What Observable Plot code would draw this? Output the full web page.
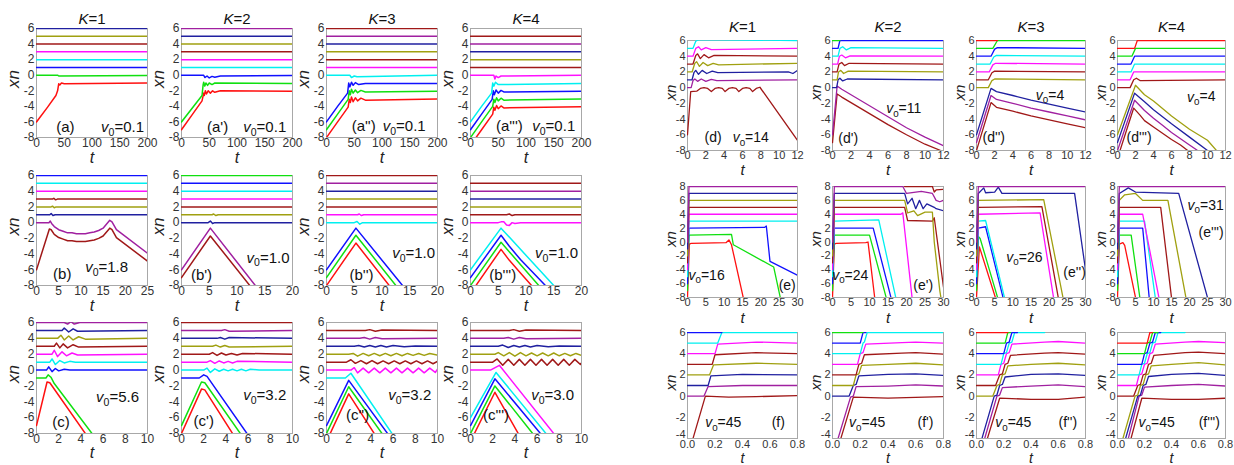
<!DOCTYPE html>
<html><head><meta charset="utf-8">
<script src="https://cdn.jsdelivr.net/npm/d3@7"></script>
<script src="https://cdn.jsdelivr.net/npm/@observablehq/plot@0.6"></script>
<style>
body{margin:0;background:#fff;}
#chart{position:relative;width:1234px;height:465px;overflow:hidden;background:#fff;}
#chart svg{position:absolute;}
</style></head><body><div id="chart"></div>
<script>
// ---------- tick labels ----------
const ticksYLeft = [-8,-6,-4,-2,0,2,4,6];
const ticksTa = [0,50,100,150,200];
const ticksTb1 = [0,5,10,15,20,25];
const ticksTb = [0,5,10,15,20];
const ticksTc = [0,2,4,6,8,10];
const ticksTd = [0,2,4,6,8,10,12];
const ticksTe = [0,5,10,15,20,25,30];
const ticksYe = [-8,-6,-4,-2,0,2,4,6,8];
const ticksTf = [0,0.2,0.4,0.6,0.8];
const ticksYf = [-4,-2,0,2,4,6];
const titlesK = ["K=1","K=2","K=3","K=4"];

// ---------- series: [colour key, [t0,x0, t1,x1, ...]] ----------
const dataA0 = [
 ["r",[0,-6, 20,-4.1, 35,-2.6, 38,-2, 40,-1.1, 42,-1.25, 45,-1, 50,-1.1, 200,-1]],
 ["g",[0,0, 38,0, 40,-0.1, 200,-0.05]],
 ["b",[0,1, 200,1]], ["c",[0,2, 200,2]], ["m",[0,3, 200,3]],
 ["w",[0,4, 200,4]], ["o",[0,5, 200,5]], ["n",[0,6, 200,6]]];
const dataA1 = [
 ["r",[0,-7, 20,-5, 37,-3.3, 40,-2.3, 41,-2.6, 43,-2, 45,-2.4, 48,-2, 52,-2.3, 56,-2, 60,-2.2, 70,-2, 200,-2.05]],
 ["g",[0,-6, 37,-2.6, 39,-1.2, 40,-0.9, 42,-1.4, 44,-1, 47,-1.3, 50,-1, 55,-1.2, 60,-1, 200,-1.05]],
 ["b",[0,0, 40,0, 42,-0.3, 46,-0.1, 50,-0.35, 55,-0.15, 60,-0.25, 70,-0.1, 200,-0.05]],
 ["c",[0,1, 200,1]], ["m",[0,2, 200,2]], ["w",[0,3, 200,3]],
 ["o",[0,4, 200,4]], ["n",[0,5, 200,5]], ["p",[0,6, 200,6]]];
const dataA2 = [
 ["r",[0,-8, 20,-6, 39,-4.1, 41,-3.1, 43,-3.5, 45,-2.8, 48,-3.4, 52,-2.9, 56,-3.3, 62,-2.95, 70,-3.2, 200,-3.05]],
 ["g",[0,-7, 20,-5, 39,-3.1, 41,-2.0, 43,-2.5, 45,-1.8, 48,-2.3, 52,-1.9, 56,-2.25, 62,-1.95, 70,-2.15, 200,-2.05]],
 ["b",[0,-6, 20,-4, 38,-2.3, 40,-1, 42,-1.5, 45,-0.9, 48,-1.3, 52,-0.95, 58,-1.2, 70,-1.05, 200,-1.05]],
 ["c",[0,0, 42,0, 45,-0.3, 50,-0.1, 55,-0.2, 200,0]],
 ["m",[0,1, 200,1]], ["w",[0,2, 200,2]], ["o",[0,3, 200,3]],
 ["n",[0,4, 200,4]], ["p",[0,5, 200,5]], ["w",[0,6, 200,6]]];
const dataA3 = [
 ["r",[0,-9, 20,-7, 40,-5, 42,-4.1, 44,-4.5, 47,-3.9, 50,-4.3, 55,-3.95, 60,-4.2, 200,-4.05]],
 ["g",[0,-8, 20,-6, 40,-4, 42,-3.1, 44,-3.5, 47,-2.9, 50,-3.3, 55,-2.95, 60,-3.2, 200,-3.05]],
 ["b",[0,-7, 20,-5, 39,-3.1, 41,-2.0, 43,-2.5, 46,-1.9, 50,-2.3, 55,-1.95, 60,-2.15, 200,-2.05]],
 ["c",[0,-6, 20,-4, 38,-2.3, 40,-1.0, 42,-1.4, 45,-0.9, 50,-1.2, 200,-1.05]],
 ["m",[0,0, 42,0, 44,-0.5, 46,-0.1, 50,-0.3, 55,-0.1, 200,0]],
 ["w",[0,1, 200,1]], ["o",[0,2, 200,2]], ["n",[0,3, 200,3]],
 ["p",[0,4, 200,4]], ["w",[0,5, 200,5]]];

const dataB0 = [
 ["w",[0,-6, 2.9,-0.8, 3.3,-0.9, 4,-1.5, 5,-1.9, 6,-2.1, 7,-2.3, 8,-2.3, 9,-2.4, 10,-2.4, 11,-2.4, 12,-2.3, 13,-2.2, 14,-2.0, 15,-1.7, 16.5,-0.7, 17,-0.9, 18,-1.9, 25,-4.9]],
 ["p",[0,0, 2.8,0, 3.1,0.2, 3.4,-0.1, 4,-0.5, 5,-0.9, 6,-1.1, 7,-1.3, 8,-1.3, 9,-1.4, 10,-1.4, 11,-1.4, 12,-1.3, 13,-1.2, 14,-1.0, 15,-0.7, 16.5,0.3, 17,0.1, 18,-0.9, 25,-3.9]],
 ["n",[0,1, 3,1, 3.3,1.15, 3.7,0.9, 4.2,1, 25,1]],
 ["o",[0,2, 3.3,2, 3.6,2.1, 4,1.9, 4.4,2, 25,2]],
 ["w",[0,3, 3.6,3, 3.9,3.1, 4.3,2.9, 4.7,3, 25,3]],
 ["m",[0,4, 25,4]], ["c",[0,5, 25,5]], ["b",[0,6, 25,6]]];
const dataB1 = [
 ["w",[0,-7, 5.2,-1.7, 12.3,-8]],
 ["p",[0,-6, 5.2,-0.7, 13.3,-8]],
 ["n",[0,0, 4.8,0, 5.2,0.2, 5.6,-0.1, 6,0, 20,0]],
 ["o",[0,1, 5.5,1, 5.8,1.1, 6.2,0.9, 6.6,1, 20,1]],
 ["w",[0,2, 20,2]], ["m",[0,3, 20,3]], ["c",[0,4, 20,4]],
 ["b",[0,5, 20,5]], ["g",[0,6, 20,6]]];
const dataB2 = [
 ["r",[0,-8, 5.3,-2.6, 11.3,-8]],
 ["g",[0,-7, 5.3,-1.6, 12.5,-8]],
 ["b",[0,-6, 5.3,-0.7, 13.7,-8]],
 ["c",[0,0, 5,0, 5.5,0.15, 6,-0.2, 6.5,0, 20,0]],
 ["m",[0,1, 5.6,1, 5.9,1.1, 6.3,0.9, 6.7,1, 20,1]],
 ["w",[0,2, 20,2]], ["o",[0,3, 20,3]], ["n",[0,4, 20,4]],
 ["p",[0,5, 20,5]], ["w",[0,6, 20,6]]];
const dataB3 = [
 ["r",[0,-9, 5.5,-3.4, 7,-4.8, 9,-6.4, 11,-8]],
 ["g",[0,-8, 5.5,-2.5, 12.3,-8]],
 ["b",[0,-7, 5.5,-1.6, 7,-3, 9,-4.7, 13.5,-8]],
 ["c",[0,-6, 5.5,-0.7, 15,-8]],
 ["m",[0,0, 5,0, 5.5,0.1, 6,0.1, 6.5,-0.3, 7,-0.35, 7.5,0, 8,-0.1, 9,0, 20,0]],
 ["w",[0,1, 6.5,1, 7,1.1, 7.5,0.9, 8,1, 20,1]],
 ["o",[0,2, 20,2]], ["n",[0,3, 20,3]], ["p",[0,4, 20,4]], ["w",[0,5, 20,5]]];

const dataC0 = [
 ["r",[0,-7, 0.95,-1.5, 1.2,-1.6, 4.4,-8]],
 ["g",[0,-1, 0.85,-1, 1.05,-0.6, 1.3,-0.9, 1.6,-1.7, 5,-8]],
 ["b",[0,0, 0.9,0, 1.1,0.4, 1.4,-0.2, 1.7,0.2, 2,-0.1, 2.5,0.1, 3,0, 10,0]],
 ["c",[0,1, 1.2,1, 1.4,1.4, 1.7,0.7, 2.1,1.2, 2.5,0.9, 3,1.1, 3.5,1, 10,1]],
 ["m",[0,2, 1.4,2, 1.6,2.5, 1.9,1.7, 2.3,2.3, 2.7,1.8, 3.2,2.15, 3.7,1.9, 10,2]],
 ["w",[0,3, 1.6,3, 1.8,3.4, 2.1,2.8, 2.4,3.3, 2.8,2.8, 3.3,3.2, 3.8,2.9, 10,3]],
 ["o",[0,4, 1.9,4, 2.2,4.4, 2.5,3.8, 2.9,4.3, 3.3,3.8, 3.8,4.2, 4.4,3.9, 10,4]],
 ["n",[0,5, 2.3,5, 2.5,5.3, 2.9,4.8, 3.3,5.2, 3.7,4.9, 10,5]],
 ["p",[0,6, 2.5,6, 2.8,5.8, 3.1,6.1, 3.4,5.8, 3.9,6, 10,6]]];
const dataC1 = [
 ["r",[0,-8, 1.8,-2.4, 2.1,-2.5, 4.6,-8]],
 ["g",[0,-7, 1.8,-1.5, 2.1,-1.6, 5.3,-8]],
 ["b",[0,-1, 1.6,-1, 2,-0.6, 2.3,-0.8, 5.9,-8]],
 ["c",[0,0, 2,0, 2.3,0.25, 2.6,-0.3, 3,0.15, 3.4,-0.15, 3.8,0.1, 4.2,-0.1, 4.6,0.1, 5,-0.1, 5.4,0.1, 5.8,-0.1, 6.2,0.1, 7,0, 10,0]],
 ["m",[0,1, 2.3,1, 2.6,1.2, 3,0.85, 3.4,1.15, 3.8,0.9, 4.2,1.1, 4.6,0.9, 5,1.1, 10,1]],
 ["w",[0,2, 2.5,2, 2.8,2.2, 3.2,1.85, 3.6,2.15, 4,1.9, 4.5,2.1, 5,1.9, 5.5,2.1, 10,2]],
 ["o",[0,3, 2.8,3, 3.1,3.15, 3.5,2.9, 3.9,3.1, 4.3,2.9, 10,3]],
 ["n",[0,4, 3.2,4, 3.5,4.1, 3.9,3.9, 4.3,4.1, 10,4]],
 ["p",[0,5, 3.6,5, 3.9,5.1, 4.3,4.9, 10,5]],
 ["w",[0,6, 10,6]]];
const dataC2 = [
 ["r",[0,-9, 2,-3, 4.3,-8]],
 ["g",[0,-8, 2,-2.1, 5,-8]],
 ["b",[0,-7, 2,-1.3, 5.5,-8]],
 ["c",[0,-1, 1.7,-1, 2.2,-0.4, 5.9,-8]],
 ["m",[0,0, 2.2,0, 2.5,0.3, 2.8,-0.35, 3.3,0.25, 3.8,-0.35, 4.3,0.25, 4.8,-0.35, 5.3,0.25, 5.8,-0.35, 6.3,0.25, 6.8,-0.35, 7.3,0.25, 7.8,-0.35, 8.3,0.25, 8.8,-0.35, 9.3,0.25, 9.8,-0.3, 10,0.1]],
 ["w",[0,1, 1.8,1, 2.2,1.3, 2.6,0.85, 3.1,1.2, 3.6,0.8, 4.1,1.2, 4.6,0.8, 5.1,1.15, 5.6,0.8, 6.1,1.15, 6.6,0.8, 7.1,1.15, 7.6,0.8, 8.1,1.15, 8.6,0.8, 9.1,1.15, 9.6,0.8, 10,1.1]],
 ["o",[0,2, 2,2, 2.4,2.1, 2.8,1.75, 3.3,2.1, 3.8,1.8, 4.3,2.1, 4.8,1.8, 5.3,2.1, 5.8,1.8, 6.3,2.1, 6.8,1.8, 7.3,2.1, 7.8,1.85, 8.3,2.1, 8.8,1.85, 9.3,2.1, 10,1.9]],
 ["n",[0,3, 2.5,3, 2.9,3.1, 3.4,2.9, 3.9,3.1, 4.4,2.9, 4.9,3.1, 5.4,2.9, 6,3.1, 7,2.95, 8,3.05, 10,3]],
 ["p",[0,4, 3,4, 3.4,4.1, 3.9,3.9, 4.4,4.1, 5,3.95, 10,4]],
 ["w",[0,5, 3.5,5, 3.9,5.1, 4.4,4.9, 5,5.05, 10,5]]];
const dataC3 = [
 ["r",[0,-9, 2.2,-2.8, 4.3,-8]],
 ["g",[0,-8, 2.2,-2, 5.6,-8]],
 ["b",[0,-7, 2.2,-1.1, 6.3,-8]],
 ["c",[0,-6, 2.3,-0.3, 6.8,-8]],
 ["m",[0,0, 1.8,0, 2.6,0.6, 7.5,-8]],
 ["w",[0,1, 2,1, 2.4,1.4, 2.9,0.6, 3.4,1.35, 3.9,0.6, 4.4,1.35, 4.9,0.6, 5.4,1.35, 5.9,0.6, 6.4,1.35, 6.9,0.6, 7.4,1.35, 7.9,0.6, 8.4,1.35, 8.9,0.6, 9.4,1.35, 9.9,0.7, 10,0.9]],
 ["o",[0,2, 2.2,2, 2.5,2.2, 3,1.8, 3.5,2.2, 4,1.75, 4.5,2.2, 5,1.8, 5.5,2.15, 6,1.8, 6.5,2.15, 7,1.8, 7.5,2.15, 8,1.8, 8.5,2.1, 9,1.8, 9.5,2.1, 10,1.85]],
 ["n",[0,3, 2.5,3, 2.9,3.15, 3.4,2.85, 3.9,3.1, 4.4,2.9, 4.9,3.1, 5.4,2.9, 6,3.1, 7,2.95, 8,3.05, 10,3]],
 ["p",[0,4, 3,4, 3.4,4.1, 3.9,3.9, 4.4,4.1, 5,3.95, 10,4]],
 ["w",[0,5, 3.5,5, 3.9,5.1, 4.4,4.9, 5,5.05, 10,5]]];

const dataD0 = [
 ["w",[0,-6, 0.35,-0.5, 1,-0.45, 1.4,-0.1, 1.8,0, 2.2,-0.1, 2.6,-0.5, 3,-0.1, 3.4,0, 3.8,-0.1, 4.1,-0.5, 4.5,-0.1, 4.9,0, 5.3,-0.1, 5.6,-0.5, 6,-0.1, 6.4,0, 6.8,-0.1, 7.1,-0.5, 7.5,-0.1, 7.9,0.05, 12,-6.7]],
 ["p",[0,0, 0.4,0, 0.6,0.9, 0.8,1.1, 1.1,0.8, 1.5,1.1, 2,0.8, 2.6,1.05, 3.2,0.9, 12,1]],
 ["n",[0,1, 0.5,1, 0.7,1.9, 0.9,2.2, 1.2,1.7, 1.6,2.2, 2.1,1.8, 2.7,2.1, 3.3,1.9, 11,2, 11.5,1.8, 12,2.2]],
 ["o",[0,2, 0.5,2, 0.8,3.1, 1,3.3, 1.3,2.7, 1.7,3.2, 2.2,2.8, 2.8,3.1, 3.4,2.9, 12,3.1]],
 ["w",[0,3, 0.6,3, 0.9,4.1, 1.1,4.3, 1.4,3.7, 1.8,4.2, 2.3,3.8, 2.9,4.1, 12,4]],
 ["m",[0,4, 0.6,4, 0.9,5, 1.2,5.2, 1.5,4.8, 2,5.1, 2.6,4.85, 12,5]],
 ["c",[0,5, 0.6,5, 0.9,5.9, 1.2,6.1, 12,6]]];
const dataD1 = [
 ["w",[0,-7, 0.5,-0.8, 1,-1.2, 2,-1.9, 4,-3.3, 6,-4.7, 8,-6.0, 10,-7.2, 11.7,-8]],
 ["p",[0,-6, 0.5,0.2, 1,-0.2, 2,-0.9, 4,-2.3, 6,-3.7, 8,-5.1, 10,-6.3, 12,-7.4]],
 ["n",[0,0, 0.45,0, 0.6,1, 0.8,1.2, 1.1,0.85, 1.6,1.1, 12,1]],
 ["o",[0,1, 0.5,1, 0.65,2, 0.9,2.2, 1.2,1.8, 1.7,2.1, 12,2]],
 ["w",[0,2, 0.5,2, 0.7,3, 1,3.2, 1.3,2.8, 1.8,3.1, 12,3]],
 ["m",[0,3, 0.55,3, 0.75,4, 1,4.15, 1.4,3.8, 1.9,4.05, 12,4]],
 ["c",[0,4, 0.6,4, 0.8,5, 1.1,5.2, 1.5,4.8, 2,5.1, 12,5]],
 ["b",[0,5, 0.6,5, 0.8,6, 12,6]],
 ["g",[0,6, 0.8,6]]];
const dataD2 = [
 ["w",[0,-8, 1.6,-1.9, 2.2,-2.5, 4,-3, 6,-3.6, 8,-4.1, 10,-4.6, 12,-5.1]],
 ["p",[0,-7, 1.6,-1, 2.2,-1.5, 4,-2, 6,-2.6, 8,-3.1, 10,-3.6, 12,-4.1]],
 ["n",[0,-6, 1.6,-0.1, 2.2,-0.5, 4,-1, 6,-1.6, 8,-2.1, 10,-2.6, 12,-3.1]],
 ["o",[0,0, 1.3,0, 1.7,0.9, 2,1.1, 12,1]],
 ["w",[0,1, 1.3,1, 1.7,1.9, 2,2.1, 12,2]],
 ["m",[0,2, 1.4,2, 1.8,2.9, 2.1,3.1, 12,3]],
 ["c",[0,3, 1.5,3, 1.9,3.9, 2.2,4.1, 12,4]],
 ["b",[0,4, 1.6,4, 2,4.9, 2.3,5.1, 12,5]],
 ["g",[0,5, 1.8,5, 2.3,6, 12,6]],
 ["r",[0,6, 2.3,6]]];
const dataD3 = [
 ["w",[0,-9, 1.8,-2.6, 2.5,-3.5, 3,-4.2, 4,-5, 5,-5.8, 6,-6.6, 7,-7.3, 7.8,-8]],
 ["p",[0,-8, 1.9,-1.6, 3,-2.9, 4,-3.9, 5,-4.8, 6,-5.7, 7,-6.5, 8,-7.3, 8.9,-8]],
 ["n",[0,-7, 1.9,-0.7, 3,-1.8, 4,-2.8, 6,-4.6, 8,-6.3, 10,-8]],
 ["o",[0,-6, 2,0.3, 3,-0.9, 4,-1.7, 6,-3.6, 8,-5.3, 10,-6.7, 11,-8]],
 ["w",[0,0, 1.4,0, 1.8,1, 2.1,1.2, 2.5,0.9, 12,1]],
 ["m",[0,1, 1.4,1, 1.8,2, 12,2]],
 ["c",[0,2, 1.5,2, 1.9,3, 12,3]],
 ["b",[0,3, 1.5,3, 1.9,4, 12,4]],
 ["g",[0,4, 1.6,4, 2,5, 12,5]],
 ["r",[0,5, 1.9,5, 2.2,6, 12,6]]];

const dataE0 = [
 ["r",[0,-8, 0.5,-0.3, 1,-0.2, 10.5,-0.1, 11.3,0.3, 12,-0.4, 15.2,-8]],
 ["g",[0,-7, 0.4,1, 12,1.1, 12.5,-0.4, 23.5,-3.6, 25.3,-8]],
 ["b",[0,-6, 0.4,2, 21,2.1, 21.5,2.3, 22.5,-2.8, 30,-4.8]],
 ["c",[0,-5, 0.4,3, 30,3]], ["m",[0,-4, 0.4,4, 30,4]],
 ["w",[0,-3, 0.4,5, 30,5]], ["o",[0,-2, 0.4,6, 30,6]],
 ["n",[0,-1, 0.4,7, 30,7]], ["p",[0,0, 0.4,8, 30,8]]];
const dataE1 = [
 ["r",[0,-8, 0.5,-0.3, 1,-0.2, 9,-0.1, 9.6,0, 11.4,-8]],
 ["g",[0,-7, 0.5,1, 10,1, 14.5,-8]],
 ["b",[0,-6, 0.5,2, 11,2, 15.8,-8]],
 ["c",[0,-5, 0.5,3, 12.5,3.2, 17.1,-8]],
 ["m",[0,-4, 0.5,4, 18.5,4, 19,4.2, 21.5,-8]],
 ["w",[0,-3, 0.5,5, 19.5,5, 20.3,3.1, 27,3, 27.5,3.5, 30,-6.5]],
 ["o",[0,-2, 0.5,6, 19.5,6, 20.3,4.2, 22,4.5, 23,3.8, 25,4.3, 27,4.3, 27.5,0, 29,-7, 29.3,-8]],
 ["n",[0,-1, 0.5,7, 19.5,7, 20.3,5.5, 21.5,6.3, 22.5,4.8, 23.5,6, 24.5,4.8, 25.5,5.5, 27.5,5, 28,4.8, 30,4.5]],
 ["p",[0,0, 0.5,8, 19,8, 20,7, 24,7.3, 27,7, 28,6, 29,5.8, 30,6]],
 ["w",[19.5,8, 27,8, 27.5,7.2, 28,7.5, 30,7.6]]];
const dataE2 = [
 ["r",[0,-8, 0.8,-0.7, 5.2,-8]],
 ["g",[0,-7, 0.5,0.8, 1,0.5, 5.8,-8]],
 ["b",[0,-6, 0.5,2, 2.5,2.2, 7.3,-8]],
 ["c",[0,-5, 0.5,3, 2.5,3.1, 7.7,-8]],
 ["m",[0,-4, 0.5,4, 17.5,4.2, 21.2,-8]],
 ["w",[0,-3, 0.5,5, 18,5.1, 22.5,-8]],
 ["o",[0,-2, 0.5,6, 18.5,6.1, 23.8,-8]],
 ["n",[0,-1, 0.5,7, 2,7.8, 2.5,7.1, 5,7.2, 6,7.9, 7,7, 27,7, 30,-4]],
 ["p",[0,0, 0.5,8, 30,8]]];
const dataE3 = [
 ["r",[0,-8, 0.5,-0.3, 1.5,-0.1, 2,-0.5, 5,-8]],
 ["g",[0,-7, 0.5,1, 3.8,1, 6.2,-8]],
 ["b",[0,-6, 0.5,2, 7,2, 8.8,-8]],
 ["c",[0,-5, 0.5,3, 7.5,3, 10.5,-8]],
 ["m",[0,-4, 0.5,4, 7,4, 11.5,-8]],
 ["w",[0,-3, 0.5,5, 12,5, 15,-8]],
 ["o",[0,-2, 0.5,6, 2,6.8, 5,7, 7,6, 14,6, 19,-8]],
 ["n",[0,-1, 0.5,7, 3,7.8, 5,7.2, 17,7, 25,-8]],
 ["p",[0,0, 0.5,8, 30,8]]];

const dataF0 = [
 ["w",[0.04,-4, 0.13,0, 0.3,-0.1, 0.5,-0.05, 0.8,0.05]],
 ["p",[0,0, 0.12,0, 0.15,0.9, 0.4,1, 0.8,1]],
 ["n",[0,1, 0.15,1, 0.17,1.9, 0.4,2.05, 0.8,2]],
 ["o",[0,2, 0.16,2, 0.19,2.95, 0.5,3.1, 0.8,3]],
 ["w",[0,3, 0.18,3, 0.2,3.9, 0.5,4.1, 0.8,4]],
 ["m",[0,4, 0.2,4, 0.22,4.9, 0.5,5.1, 0.8,5]],
 ["c",[0,5, 0.22,5, 0.25,6, 0.8,6]],
 ["b",[0,6, 0.25,6]]];
const dataF1 = [
 ["w",[0.06,-4, 0.15,-0.1, 0.4,-0.2, 0.8,-0.05]],
 ["p",[0.04,-4, 0.13,-0.1, 0.15,0, 0.17,0.9, 0.4,0.95, 0.6,1.05, 0.8,0.95]],
 ["n",[0,0, 0.12,0, 0.15,1, 0.17,1.1, 0.19,1.9, 0.4,2.05, 0.6,2.1, 0.8,1.95]],
 ["o",[0,1, 0.15,1, 0.17,2, 0.19,2.1, 0.21,2.9, 0.4,3.0, 0.6,3.1, 0.8,2.95]],
 ["w",[0,2, 0.17,2, 0.19,3, 0.21,3.1, 0.23,3.9, 0.5,4.05, 0.6,4.1, 0.8,3.95]],
 ["m",[0,3, 0.18,3, 0.2,4, 0.22,4.1, 0.24,4.9, 0.5,5.05, 0.6,5.1, 0.8,5]],
 ["c",[0,4, 0.2,4, 0.22,5, 0.23,5.1, 0.25,6, 0.8,6]],
 ["b",[0,5, 0.2,5, 0.22,6, 0.24,6]],
 ["g",[0,6, 0.22,6]]];
const dataF2 = [
 ["w",[0.08,-4, 0.17,-0.2, 0.4,-0.3, 0.6,-0.3, 0.8,-0.1]],
 ["p",[0.06,-4, 0.15,0, 0.17,0.1, 0.19,0.8, 0.4,0.95, 0.6,1.05, 0.8,0.9]],
 ["n",[0.04,-4, 0.13,0, 0.15,0.1, 0.17,1, 0.19,1.1, 0.21,1.8, 0.4,2.05, 0.6,2.1, 0.8,1.95]],
 ["o",[0,0, 0.12,0, 0.15,1, 0.17,1.1, 0.19,2, 0.21,2.1, 0.23,2.85, 0.4,3.0, 0.6,3.1, 0.8,2.95]],
 ["w",[0,1, 0.14,1, 0.17,2, 0.19,2.1, 0.21,3, 0.23,3.1, 0.25,3.85, 0.5,4.05, 0.6,4.1, 0.8,3.95]],
 ["m",[0,2, 0.16,2, 0.18,3, 0.2,3.1, 0.22,4, 0.24,4.1, 0.26,4.9, 0.5,5.1, 0.6,5.15, 0.8,5]],
 ["c",[0,3, 0.18,3, 0.2,4, 0.22,4.1, 0.24,5, 0.26,5.1, 0.28,6, 0.5,6]],
 ["b",[0,4, 0.2,4, 0.22,5, 0.24,5.1, 0.26,6, 0.3,6]],
 ["g",[0,5, 0.21,5, 0.23,6, 0.25,6]],
 ["r",[0,6, 0.23,6]]];
const dataF3 = [
 ["w",[0.1,-4, 0.18,-0.2, 0.4,-0.3, 0.6,-0.3, 0.8,-0.2]],
 ["p",[0.08,-4, 0.16,0, 0.18,0.1, 0.2,0.85, 0.4,1.0, 0.6,1.1, 0.8,0.95]],
 ["n",[0.06,-4, 0.15,0, 0.17,0.1, 0.19,1, 0.21,1.1, 0.23,1.85, 0.4,2.05, 0.6,2.15, 0.8,1.95]],
 ["o",[0.04,-4, 0.13,0, 0.15,0.1, 0.17,1, 0.19,1.1, 0.21,2, 0.23,2.1, 0.25,2.85, 0.4,3.0, 0.6,3.15, 0.8,2.95]],
 ["w",[0,0, 0.12,0, 0.15,1, 0.17,1.1, 0.19,2, 0.21,2.1, 0.23,3, 0.25,3.1, 0.27,3.85, 0.5,4.1, 0.6,4.15, 0.8,4]],
 ["m",[0,1, 0.14,1, 0.16,2, 0.18,2.1, 0.2,3, 0.22,3.1, 0.24,4, 0.26,4.1, 0.28,4.9, 0.5,5.1, 0.6,5.15, 0.8,5.05]],
 ["c",[0,2, 0.16,2, 0.18,3, 0.2,3.1, 0.22,4, 0.24,4.1, 0.26,5, 0.28,5.1, 0.3,6, 0.5,6]],
 ["b",[0,3, 0.18,3, 0.2,4, 0.22,4.1, 0.24,5, 0.26,5.1, 0.28,6, 0.32,6]],
 ["g",[0,4, 0.2,4, 0.22,5, 0.24,5.1, 0.26,6, 0.3,6]],
 ["r",[0,5, 0.22,5, 0.24,6, 0.26,6]]];

// ---------- styling / layout ----------
const pal = {r:"#ff1010", g:"#10e010", b:"#1010ff", c:"#00f0f0", m:"#ff10ff", w:"#a01818", o:"#a0a010", n:"#2020a0", p:"#a020a0"};
const ML = 40, MR = 12, MT = 30, MB = 34;
const leftX = [36,181,326,470], leftY = [28,175,322];
const rightX = [687,832,976,1117], rightY = [40,186,332];
const rightW = [110,111,109,108];

const panels = [
 {d:dataA0, c:0, r:0, side:"L", xd:[0,200], xt:ticksTa, yd:[-8,6], yt:ticksYLeft, ann:[["(a)",52,-6.7],["v0=0.1",155,-6.7]]},
 {d:dataA1, c:1, r:0, side:"L", xd:[0,200], xt:ticksTa, yd:[-8,6], yt:ticksYLeft, ann:[["(a')",65,-6.7],["v0=0.1",150,-6.7]]},
 {d:dataA2, c:2, r:0, side:"L", xd:[0,200], xt:ticksTa, yd:[-8,6], yt:ticksYLeft, ann:[["(a'')",67,-6.6],["v0=0.1",140,-6.6]]},
 {d:dataA3, c:3, r:0, side:"L", xd:[0,200], xt:ticksTa, yd:[-8,6], yt:ticksYLeft, ann:[["(a''')",70,-6.6],["v0=0.1",150,-6.6]]},
 {d:dataB0, c:0, r:1, side:"L", xd:[0,25], xt:ticksTb1, yd:[-8,6], yt:ticksYLeft, ann:[["(b)",5.8,-6.6],["v0=1.8",15.8,-5.7]]},
 {d:dataB1, c:1, r:1, side:"L", xd:[0,20], xt:ticksTb, yd:[-8,6], yt:ticksYLeft, ann:[["(b')",3.6,-6.7],["v0=1.0",15.6,-4.5]]},
 {d:dataB2, c:2, r:1, side:"L", xd:[0,20], xt:ticksTb, yd:[-8,6], yt:ticksYLeft, ann:[["(b'')",6.3,-6.7],["v0=1.0",15.7,-3.9]]},
 {d:dataB3, c:3, r:1, side:"L", xd:[0,20], xt:ticksTb, yd:[-8,6], yt:ticksYLeft, ann:[["(b''')",5.8,-6.7],["v0=1.0",15.5,-3.9]]},
 {d:dataC0, c:0, r:2, side:"L", xd:[0,10], xt:ticksTc, yd:[-8,6], yt:ticksYLeft, ann:[["(c)",2.2,-6.6],["v0=5.6",7.3,-3.4]]},
 {d:dataC1, c:1, r:2, side:"L", xd:[0,10], xt:ticksTc, yd:[-8,6], yt:ticksYLeft, ann:[["(c')",2.0,-6.4],["v0=3.2",7.5,-3.2]]},
 {d:dataC2, c:2, r:2, side:"L", xd:[0,10], xt:ticksTc, yd:[-8,6], yt:ticksYLeft, ann:[["(c'')",2.8,-5.7],["v0=3.2",7.5,-3.2]]},
 {d:dataC3, c:3, r:2, side:"L", xd:[0,10], xt:ticksTc, yd:[-8,6], yt:ticksYLeft, ann:[["(c''')",2.3,-5.7],["v0=3.0",7.4,-3.2]]},
 {d:dataD0, c:0, r:0, side:"R", xd:[0,12], xt:ticksTd, yd:[-8,6], yt:ticksYLeft, ann:[["(d)",2.8,-6.4],["v0=14",6.9,-6.4]]},
 {d:dataD1, c:1, r:0, side:"R", xd:[0,12], xt:ticksTd, yd:[-8,6], yt:ticksYLeft, ann:[["(d')",1.7,-6.5],["v0=11",7.7,-2.7]]},
 {d:dataD2, c:2, r:0, side:"R", xd:[0,12], xt:ticksTd, yd:[-8,6], yt:ticksYLeft, ann:[["(d'')",1.9,-6.4],["v0=4",8.1,-1]]},
 {d:dataD3, c:3, r:0, side:"R", xd:[0,12], xt:ticksTd, yd:[-8,6], yt:ticksYLeft, ann:[["(d''')",2.4,-6.4],["v0=4",9.3,-1.2]]},
 {d:dataE0, c:0, r:1, side:"R", xd:[0,30], xt:ticksTe, yd:[-8,8], yt:ticksYe, ann:[["v0=16",5.2,-4.8],["(e)",27.2,-6.3]]},
 {d:dataE1, c:1, r:1, side:"R", xd:[0,30], xt:ticksTe, yd:[-8,8], yt:ticksYe, ann:[["v0=24",4.8,-4.8],["(e')",24.5,-6.3]]},
 {d:dataE2, c:2, r:1, side:"R", xd:[0,30], xt:ticksTe, yd:[-8,8], yt:ticksYe, ann:[["v0=26",13.2,-2.2],["(e'')",27,-4.4]]},
 {d:dataE3, c:3, r:1, side:"R", xd:[0,30], xt:ticksTe, yd:[-8,8], yt:ticksYe, ann:[["v0=31",24.5,5.3],["(e''')",26,1.4]]},
 {d:dataF0, c:0, r:2, side:"R", xd:[0,0.8], xt:ticksTf, yd:[-4,6], yt:ticksYf, f1:true, ann:[["v0=45",0.26,-2.5],["(f)",0.66,-2.5]]},
 {d:dataF1, c:1, r:2, side:"R", xd:[0,0.8], xt:ticksTf, yd:[-4,6], yt:ticksYf, f1:true, ann:[["v0=45",0.25,-2.5],["(f')",0.67,-2.5]]},
 {d:dataF2, c:2, r:2, side:"R", xd:[0,0.8], xt:ticksTf, yd:[-4,6], yt:ticksYf, f1:true, ann:[["v0=45",0.27,-2.5],["(f'')",0.67,-2.5]]},
 {d:dataF3, c:3, r:2, side:"R", xd:[0,0.8], xt:ticksTf, yd:[-4,6], yt:ticksYf, f1:true, ann:[["v0=45",0.29,-2.5],["(f''')",0.68,-2.5]]}
];

const chart = document.getElementById("chart");
const tDy = {L:[20,20,19], R:[20,21,20]};
const frameH = {L:[109,110,111], R:[110,111,106]};

for (const p of panels) {
  const L = p.side === "L";
  const fw = L ? 111 : rightW[p.c], fh = frameH[p.side][p.r];
  const x0 = L ? leftX[p.c] : rightX[p.c];
  const y0 = L ? leftY[p.r] : rightY[p.r];
  const rows = [];
  p.d.forEach(([k, pts], i) => {
    for (let j = 0; j < pts.length; j += 2) rows.push({s: i, k, t: pts[j], x: pts[j + 1]});
  });
  const fs = L ? 12 : 11;
  const yFmt = d => String(d);
  const marks = [
    Plot.frame({stroke: "#a8a8a8"}),
    Plot.axisX({ticks: p.xt, tickFormat: p.f1 ? d3.format(".1f") : (d => String(d)), tickSize: 0, tickPadding: p.f1 ? 2 : 1, label: null, fill: "#333"}),
    Plot.axisY({ticks: p.f1 ? p.yt.slice(1) : p.yt, tickFormat: yFmt, tickSize: 0, tickPadding: 2, label: null, fill: "#333"}),
    Plot.line(rows, {x: "t", y: "x", z: "s", stroke: d => pal[d.k], strokeWidth: L ? 1.5 : 1.3, clip: true}),
    Plot.text(["t"], {frameAnchor: "bottom", lineAnchor: "middle", text: d => d, dy: tDy[p.side][p.r], fontSize: p.f1 ? 14 : (L ? 16 : 15), fontStyle: "italic", fill: "#222"}),
    Plot.text(["xn"], {frameAnchor: "left", lineAnchor: "middle", text: d => d, rotate: -90, dx: L ? -23 : -16, dy: 5, fontSize: L ? 17 : 15, fontStyle: "italic", fill: "#222"}),
    Plot.text(p.ann, {x: d => d[1], y: d => d[2], text: d => d[0], fontSize: L ? 15 : 14, fill: "#111"})
  ];
  if (p.f1) marks.push(Plot.axisY({ticks: p.yt.slice(0, 1), tickFormat: yFmt, tickSize: 0, tickPadding: 2, label: null, fill: "#333", dy: -4}));
  if (p.r === 0) marks.push(Plot.text([titlesK[p.c]], {frameAnchor: "top", lineAnchor: "middle", text: d => d, dy: L ? -9 : -13, fontSize: 15, fill: "#111"}));
  const svg = Plot.plot({
    width: fw + ML + MR, height: fh + MT + MB,
    marginLeft: ML, marginRight: MR, marginTop: MT, marginBottom: MB,
    style: {background: "transparent", overflow: "visible", fontFamily: "'Liberation Sans', Arial, sans-serif", fontSize: fs + "px"},
    x: {domain: p.xd}, y: {domain: p.yd}, color: {type: "identity"},
    marks
  });
  svg.style.left = (x0 - ML) + "px";
  svg.style.top = (y0 - MT) + "px";
  d3.select(svg).selectAll("text").each(function () {
    const s = this.textContent;
    const sel = d3.select(this);
    if (/^v0=/.test(s)) {
      sel.text("");
      sel.append("tspan").attr("font-style", "italic").text("v");
      sel.append("tspan").attr("dy", "0.35em").attr("font-size", "0.7em").text("0");
      sel.append("tspan").attr("dy", "-0.25em").text(s.slice(2));
    } else if (/^K=/.test(s)) {
      sel.text("");
      sel.append("tspan").attr("font-style", "italic").text("K");
      sel.append("tspan").text(s.slice(1));
    }
  });
  chart.appendChild(svg);
}
</script></body></html>
